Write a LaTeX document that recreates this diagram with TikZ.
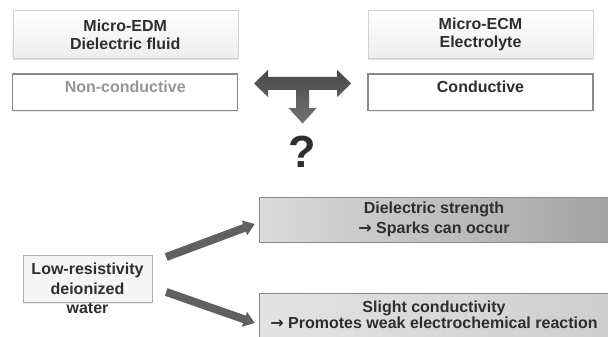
\documentclass[tikz,border=0pt]{standalone}
\usepackage{fontspec}
\setmainfont{Liberation Sans}
\newfontfamily\arrowfont{DejaVu Sans}
\usetikzlibrary{arrows.meta, positioning, shadows, calc}
\usepackage{xcolor}
\definecolor{inkcolor}{RGB}{46,46,46}
\definecolor{mutecolor}{RGB}{150,150,150}
\definecolor{framecolor}{RGB}{138,138,138}
\definecolor{softframe}{RGB}{210,210,210}
\definecolor{arrowcolor}{RGB}{96,96,96}
\newcommand{\thento}{{\arrowfont\bfseries →}}
\tikzset{
  headbox/.style  = {draw=softframe, top color=white, bottom color=black!7,
                     minimum width=225pt, minimum height=47.6pt, inner sep=0pt,
                     align=center, text=inkcolor,
                     drop shadow={shadow xshift=0pt, shadow yshift=-2pt, opacity=0.25}},
  propbox/.style  = {draw=framecolor, line width=1.2pt, fill=white,
                     minimum width=225pt, minimum height=36.7pt, inner sep=0pt,
                     text height=11.5pt, text depth=10.5pt,
                     drop shadow={shadow xshift=0pt, shadow yshift=-1.5pt, opacity=0.15}},
  waterbox/.style = {draw=framecolor!70, fill=black!4, minimum width=129pt,
                     minimum height=47pt, inner sep=0pt,
                     drop shadow={shadow xshift=0pt, shadow yshift=-1.5pt, opacity=0.15}},
  effectbox/.style= {draw=framecolor, minimum width=350pt, inner sep=0pt,
                     align=center, text=inkcolor},
  fatarrow/.style = {-{Triangle[length=11pt, width=15pt]}, line width=8pt, color=arrowcolor},
  tarrow/.style   = {top color=black!72, bottom color=black!55, draw=none},
}

\begin{document}
\begin{tikzpicture}[x=1pt, y=-1pt, every node/.style={font=\fontsize{16}{18.3}\selectfont\bfseries}]
  \useasboundingbox (0,0) rectangle (608,337);
  % top row
  \node[headbox] (edm) at (125.2,34.5) {Micro-EDM\\Dielectric fluid};
  \node[headbox] (ecm) at (480.5,34.5) {Micro-ECM\\Electrolyte};
  \node[propbox, text=mutecolor] (noncond) at (125.2,92.4) {Non-conductive};
  \node[propbox, text=inkcolor] (cond) at (480.5,92.4) {Conductive};
  \coordinate (tee) at (302.6,83.5);
  \path[tarrow, shift={(tee)}] (-48.6,0) -- (-34.6,-13.5) -- (-34.6,-6.5) -- (34.6,-6.5)
    -- (34.6,-13.5) -- (48.6,0) -- (34.6,13.5) -- (34.6,6.5) -- (6.5,6.5) -- (6.5,24.5)
    -- (14,24.5) -- (0,40) -- (-14,24.5) -- (-6.5,24.5) -- (-6.5,6.5) -- (-34.6,6.5)
    -- (-34.6,13.5) -- cycle;
  \node[font=\fontsize{45}{45}\selectfont\bfseries, text=inkcolor, inner sep=0pt] (quest) at (302.6,151.5) {?};
  % bottom row
  \node[waterbox] (water) at (87.5,278.5) {};
  \node[align=center, text=inkcolor, inner sep=0pt,
        font=\fontsize{16}{19.5}\selectfont\bfseries] (watertext) at (87.5,288.5)
        {Low-resistivity\\deionized\\water};
  \node[effectbox, minimum height=45pt, left color=black!14, right color=black!36,
        font=\fontsize{16}{19.3}\selectfont\bfseries] (strength) at (434,219.5)
        {Dielectric strength\\\thento{} Sparks can occur};
  \node[effectbox, minimum height=44pt, left color=black!11, right color=black!19,
        font=\fontsize{16}{16.5}\selectfont\bfseries] (slight) at (434,315)
        {Slight conductivity\\\thento{} Promotes weak electrochemical reaction};
  \draw[fatarrow] ($(water.east)+(14,-21.5)$) -- ($(strength.west)+(-4,4.5)$);
  \draw[fatarrow] ($(water.east)+(14,13.5)$) -- ($(slight.west)+(-4,8)$);
\end{tikzpicture}
\end{document}
